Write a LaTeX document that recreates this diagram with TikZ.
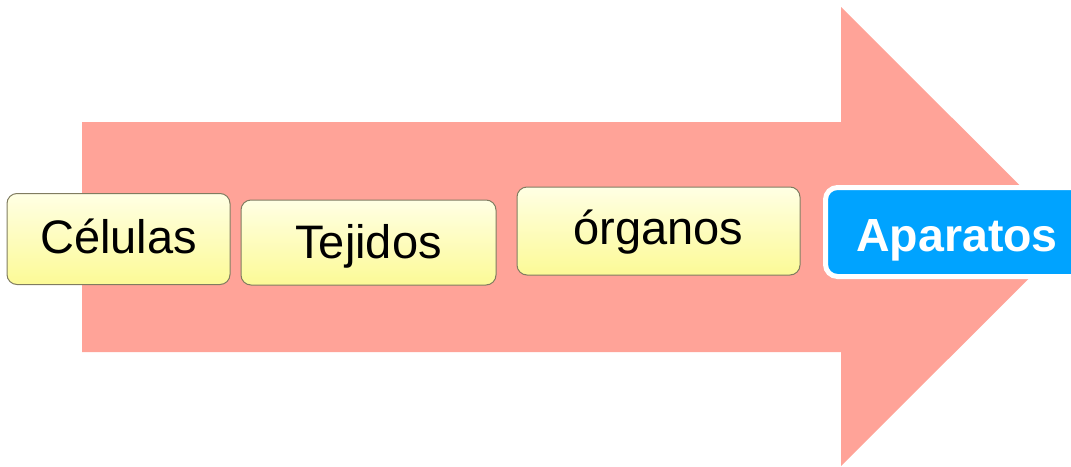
\documentclass[tikz,border=0pt]{standalone}
\usepackage{fontspec}
\setmainfont{Liberation Sans}
\definecolor{arrowfill}{RGB}{255,163,152}
\definecolor{boxtop}{RGB}{255,255,228}
\definecolor{boxbottom}{RGB}{252,250,150}
\definecolor{boxline}{RGB}{128,124,96}
\definecolor{bluebox}{RGB}{0,163,255}
\tikzset{
  stagebox/.style={draw=boxline, line width=1pt, rounded corners=10pt,
    top color=boxtop, bottom color=boxbottom, inner sep=0pt,
    font=\fontsize{47}{51}\selectfont, text=black, text depth=0pt},
  finalbox/.style={draw=white, line width=5pt, fill=bluebox, rounded corners=12pt,
    inner sep=0pt, font=\fontsize{46.5}{51}\selectfont\bfseries, text=white, text depth=0pt},
}
\begin{document}
\begin{tikzpicture}[x=1pt,y=-1pt]
\useasboundingbox (0,0) rectangle (1071,466);
\fill[arrowfill] (82,122) -- (841,122) -- (841,7) -- (1071,236.5) -- (841,466) -- (841,352) -- (82,352) -- cycle;
\node[stagebox, minimum width=223pt, minimum height=91pt, text height=28pt] (celulas) at (118.5,239) {Células};
\node[stagebox, minimum width=255pt, minimum height=85pt, text height=31pt] (tejidos) at (368.5,242.5) {Tejidos};
\node[stagebox, minimum width=283pt, minimum height=88pt, text height=26pt] (organos) at (658.5,231) {órganos};
\node[finalbox, minimum width=263pt, minimum height=89pt, text height=39pt] (aparatos) at (957,232) {Aparatos};
\end{tikzpicture}
\end{document}
